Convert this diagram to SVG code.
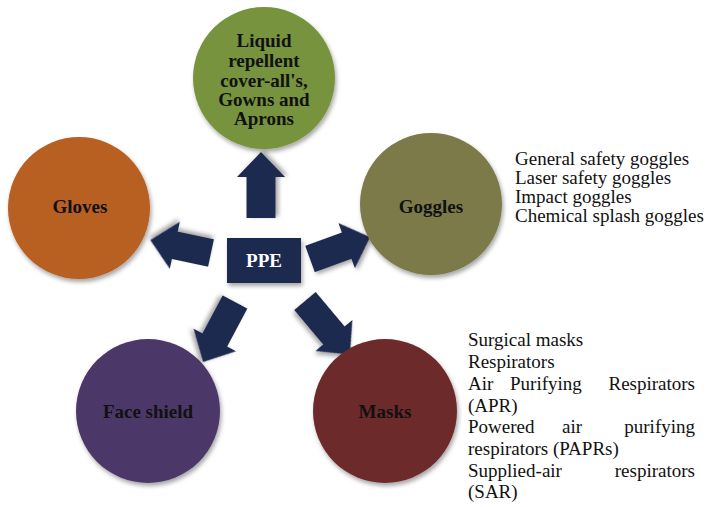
<svg xmlns="http://www.w3.org/2000/svg" width="709" height="507" viewBox="0 0 709 507">
  <defs>
    <filter id="sh" x="-20%" y="-20%" width="150%" height="150%">
      <feDropShadow dx="1.5" dy="3" stdDeviation="2" flood-color="#000" flood-opacity="0.35"/>
    </filter>
    <style>
      text { font-family: 'Liberation Serif', 'Times New Roman', Times, serif; }
      .lbl { font-weight: bold; font-size: 19px; fill: #111; text-anchor: middle; }
      .lst { font-size: 19px; fill: #111; }
      .arr { fill: #1e2a50; filter: url(#sh); }
      .node { filter: url(#sh); }
    </style>
  </defs>
  <rect width="709" height="507" fill="#ffffff"/>

  <g id="connectors">
    <polygon class="arr" transform="translate(261,218) rotate(-90)" points="0,-14.5 41,-14.5 41,-24 66,0 41,24 41,14.5 0,14.5"/>
    <polygon class="arr" transform="translate(211,253) rotate(192)" points="0,-14 37,-14 37,-24 62,0 37,24 37,14 0,14"/>
    <polygon class="arr" transform="translate(310,259) rotate(-20)" points="0,-14 39,-14 39,-24 64,0 39,24 39,14 0,14"/>
    <polygon class="arr" transform="translate(235,302) rotate(118)" points="0,-14 43,-14 43,-24 68,0 43,24 43,14 0,14"/>
    <polygon class="arr" transform="translate(305,301) rotate(50)" points="0,-14 45,-14 45,-24 70,0 45,24 45,14 0,14"/>
  </g>

  <g id="ppe">
    <rect class="node" x="227" y="238" width="74" height="45" fill="#1e2a50"/>
    <text class="lbl" x="264" y="267" style="fill:#ffffff">PPE</text>
  </g>

  <g id="gowns">
    <circle class="node" cx="264" cy="78" r="71" fill="#77933c"/>
    <text class="lbl" x="264" y="47">Liquid</text>
    <text class="lbl" x="264" y="67">repellent</text>
    <text class="lbl" x="264" y="87">cover-all's,</text>
    <text class="lbl" x="264" y="106">Gowns and</text>
    <text class="lbl" x="264" y="125">Aprons</text>
  </g>

  <g id="gloves">
    <circle class="node" cx="79" cy="208" r="71" fill="#b85f20"/>
    <text class="lbl" x="80" y="213">Gloves</text>
  </g>

  <g id="goggles">
    <circle class="node" cx="431" cy="204" r="71" fill="#7c7a48"/>
    <text class="lbl" x="431" y="213">Goggles</text>
  </g>

  <g id="goggles-list">
    <text class="lst" x="515" y="165">General safety goggles</text>
    <text class="lst" x="515" y="184">Laser safety goggles</text>
    <text class="lst" x="515" y="203">Impact goggles</text>
    <text class="lst" x="515" y="222">Chemical splash goggles</text>
  </g>

  <g id="face-shield">
    <circle class="node" cx="148" cy="411" r="72" fill="#4c3968"/>
    <text class="lbl" x="148" y="418">Face shield</text>
  </g>

  <g id="masks">
    <circle class="node" cx="385" cy="411" r="72" fill="#6d2b2b"/>
    <text class="lbl" x="385" y="418">Masks</text>
  </g>

  <g id="masks-list">
    <text class="lst" x="468" y="346">Surgical masks</text>
    <text class="lst" x="468" y="368">Respirators</text>
    <text class="lst" x="468" y="390">Air</text>
    <text class="lst" x="510" y="390">Purifying</text>
    <text class="lst" x="695" y="390" text-anchor="end">Respirators</text>
    <text class="lst" x="468" y="412">(APR)</text>
    <text class="lst" x="468" y="433">Powered</text>
    <text class="lst" x="562" y="433">air</text>
    <text class="lst" x="695" y="433" text-anchor="end">purifying</text>
    <text class="lst" x="468" y="455">respirators (PAPRs)</text>
    <text class="lst" x="468" y="477">Supplied-air</text>
    <text class="lst" x="695" y="477" text-anchor="end">respirators</text>
    <text class="lst" x="468" y="498">(SAR)</text>
  </g>
</svg>
